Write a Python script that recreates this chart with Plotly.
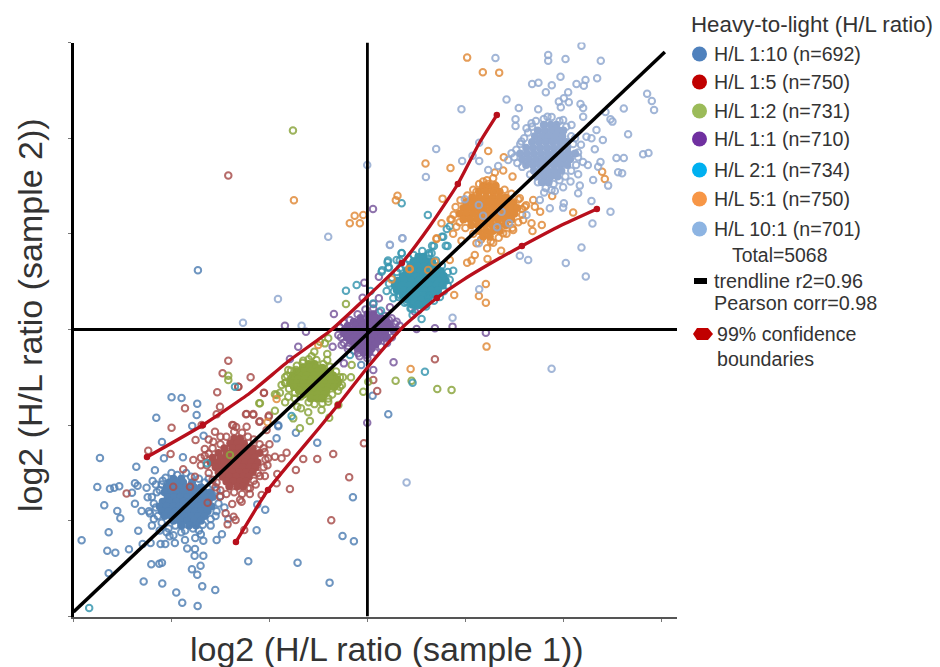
import plotly.graph_objects as go

# ---- values (log2 sample 1, log2 sample 2) ----
blue_scatter = [(-1.999,-.709),(-1.897,-.716),(-1.737,-.775),(-2.155,-.922),(-1.743,-.894),(-1.788,-1.009),(-1.672,-1.11),(-2.097,-1.176),(-2.73,-1.343),(-2.077,-1.347),(-1.883,-1.336),(-2.359,-1.434),(-2.169,-1.472),(-2.757,-1.646),(-2.628,-1.664),(-2.584,-1.653),(-2.533,-1.639),(-2.403,-1.706),(-2.373,-1.608),(-2.346,-1.633),(-2.192,-1.584),(-2.254,-1.653),(-2.686,-1.838),(-2.553,-1.897),(-2.522,-1.974),(-2.373,-1.821),(-2.243,-1.754),(-2.305,-1.897),(-2.22,-1.922),(-2.641,-2.12),(-2.339,-2.103),(-2.917,-2.204),(-2.655,-2.312),(-2.573,-2.333),(-2.434,-2.298),(-2.294,-2.242),(-2.213,-2.232),(-2.111,-2.242),(-2.063,-2.242),(-1.965,-2.232),(-1.862,-2.2),(-1.757,-2.18),(-1.675,-2.207),(-1.539,-2.2),(-1.485,-2.141),(-1.839,-2.288),(-1.76,-2.295),(-1.675,-2.364),(-1.764,-2.364),(-2.206,-2.455),(-2.124,-2.448),(-2.097,-2.437),(-1.703,-2.469),(-1.791,-2.507),(-1.737,-2.563),(-2.641,-2.549),(-2.284,-2.633),(-2.094,-2.654),(-1.686,-2.685),(-1.553,-2.723),(-1.951,-2.748),(-1.89,-2.856),(-1.733,-2.89),(-1.216,-2.423),(-.713,-2.437),(-.386,-2.646),(-.254,-2.159),(-.138,-2.214),(-.148,-1.754),(-1.131,-2.099),(-1.043,-1.883),(-1.124,-1.828),(-.512,-1.183),(-.73,-1.079),(-.91,-1.012),(-.927,-1.138),(-1.73,.62),(.213,-.887),(.053,-.692),(-.063,-.371),(-.91,-1.0),(-2.15,-1.7),(-2.18,-1.82),(-2.14,-1.95),(-2.2,-2.05),(-2.12,-2.1),(-2.05,-2.12),(-1.98,-2.15),(-1.9,-2.12),(-1.72,-2.1),(-1.6,-2.05),(-1.55,-1.95),(-2.1,-1.62),(-2.06,-1.55),(-1.85,-1.5),(-1.42,-1.98)]
blue_fringe = [(-2.2,-1.75),(-2.16,-1.86),(-2.18,-1.98),(-2.1,-2.02),(-2.03,-2.08),(-1.96,-2.05),(-1.86,-2.1),(-1.78,-2.08),(-1.68,-2.04),(-1.6,-1.98),(-1.54,-1.9),(-1.52,-1.82),(-1.5,-1.74),(-1.54,-1.68),(-1.58,-1.62),(-1.66,-1.6),(-1.72,-1.56),(-1.8,-1.54),(-1.94,-1.52),(-2.0,-1.5),(-2.09,-1.58),(-2.12,-1.68),(-2.16,-1.62),(-2.23,-1.9),(-2.02,-2.16),(-1.7,-2.14),(-1.62,-1.56),(-1.46,-1.86)]
blue_rows = [(-1.56,[-1.98,-1.90]),(-1.60,[-2.02,-1.95,-1.88,-1.79]),(-1.65,[-2.05,-1.98,-1.92,-1.85,-1.77,-1.70]),(-1.70,[-2.07,-2.00,-1.94,-1.88,-1.81,-1.74,-1.66,-1.60]),(-1.75,[-2.04,-1.97,-1.91,-1.84,-1.78,-1.71,-1.64,-1.58]),(-1.80,[-2.09,-2.02,-1.95,-1.88,-1.82,-1.75,-1.69,-1.62]),(-1.85,[-2.12,-2.05,-1.98,-1.92,-1.85,-1.79,-1.72,-1.65,-1.59]),(-1.90,[-2.10,-2.03,-1.96,-1.89,-1.83,-1.76,-1.70,-1.63]),(-1.95,[-2.07,-2.00,-1.93,-1.86,-1.80,-1.73,-1.66]),(-2.00,[-1.98,-1.91,-1.84,-1.77,-1.70]),(-2.05,[-1.90,-1.82,-1.75])]

red_scatter = [(-1.533,-.657),(-1.318,-.598),(-1.056,-.664),(-1.862,-.824),(-1.505,-.807),(-1.539,-.887),(-1.24,-.887),(-1.165,-.89),(-1.009,-.911),(-1.999,-1.026),(-1.692,-.998),(-1.104,-.964),(-1.38,-.998),(-1.233,-1.016),(-1.556,-1.068),(-1.754,-1.155),(-2.237,-1.267),(-2.009,-1.302),(-1.573,-1.173),(-1.029,-1.051),(-1.88,-1.462),(-1.777,-1.364),(-1.76,-1.538),(-1.982,-1.643),(-2.458,-1.713),(-1.811,-1.643),(-1.199,-1.66),(-1.097,-1.531),(-1.046,-1.531),(-.92,-1.511),(-.73,-1.469),(-.791,-1.667),(-.927,-1.608),(-1.08,-1.73),(-1.284,-1.8),(-1.38,-1.824),(-1.447,-1.922),(-1.366,-1.957),(-1.427,-2.037),(-1.345,-1.991),(-1.257,-2.096),(-.349,-1.302),(-.512,-1.354),(-.655,-1.354),(-.825,-1.288),(-.876,-1.347),(-.944,-1.329),(-1.012,-1.347),(-.186,-1.545),(-.369,-1.995),(-.036,-1.19),(-1.631,-1.81),(-1.505,-1.748),(-1.42,1.61),(-1.42,-.326),(-1.478,-.458),(-1.192,-.5),(-1.318,-.598),(-1.056,-.66),(.689,-.312),(.06,-.528),(.1,-.643),(-1.233,-.883),(-1.165,-.883),(-1.369,-1.0),(-1.097,-.96),(-1.005,-.9),(-1.62,-1.15),(-1.5,-1.12),(-1.66,-1.25),(-1.7,-1.42),(-1.0,-1.2),(-1.05,-1.28),(-1.55,-1.65),(-1.2,-1.72),(-1.14,-1.62)]
red_fringe = [(-1.66,-1.32),(-1.64,-1.42),(-1.62,-1.5),(-1.58,-1.57),(-1.54,-1.6),(-1.5,-1.68),(-1.44,-1.72),(-1.36,-1.7),(-1.28,-1.72),(-1.22,-1.66),(-1.16,-1.58),(-1.12,-1.5),(-1.06,-1.44),(-1.04,-1.36),(-1.06,-1.24),(-1.1,-1.2),(-1.16,-1.15),(-1.22,-1.12),(-1.28,-1.08),(-1.36,-1.07),(-1.44,-1.12),(-1.5,-1.2),(-1.58,-1.24),(-1.62,-1.3),(-1.7,-1.34),(-1.34,-1.02),(-1.3,-1.78),(-1.02,-1.42)]
red_rows = [(-1.14,[-1.36,-1.30]),(-1.19,[-1.40,-1.33,-1.26]),(-1.24,[-1.46,-1.38,-1.31,-1.24,-1.17]),(-1.29,[-1.52,-1.44,-1.37,-1.30,-1.23,-1.16,-1.10]),(-1.34,[-1.58,-1.50,-1.43,-1.36,-1.29,-1.22,-1.15]),(-1.39,[-1.60,-1.53,-1.46,-1.39,-1.32,-1.25,-1.18,-1.12]),(-1.44,[-1.55,-1.48,-1.41,-1.34,-1.27,-1.20,-1.14]),(-1.49,[-1.52,-1.45,-1.38,-1.31,-1.24,-1.17]),(-1.54,[-1.48,-1.41,-1.34,-1.27,-1.21]),(-1.59,[-1.44,-1.37,-1.30,-1.24]),(-1.64,[-1.41,-1.33,-1.27])]

green_scatter = [(-.219,.266),(-.4,-.092),(-.485,-.127),(-.434,-.145),(-.542,-.232),(-.41,-.256),(-.41,-.319),(-.655,-.326),(-.161,-.371),(-.168,-.5),(-.808,-.423),(-.729,-.423),(-1.42,-.483),(-1.42,-.528),(-.876,-.58),(-.835,-.556),(.288,-.535),(.451,-.535),(.713,-.622),(.859,-.633),(-.042,-.65),(-.944,-.678),(-.893,-.66),(-.808,-.702),(-1.097,-.772),(-.716,-.807),(-.678,-.824),(-.604,-.866),(-.587,-.957),(-.944,-.849),(-.297,-.789),(-.4,-.754),(-.468,-.842),(.009,-.545),(-.281,-.598),(-.76,2.08),(-1.403,-1.312),(-1.104,-.772),(-.927,-.685),(-.689,-1.033),(-.757,-.929),(-.39,-.922),(-.84,-.76),(-.74,-.72),(-.25,-.5),(-.84,-.5)]
green_fringe = [(-.84,-.56),(-.82,-.48),(-.78,-.43),(-.72,-.38),(-.66,-.35),(-.6,-.31),(-.52,-.32),(-.45,-.36),(-.38,-.39),(-.32,-.44),(-.28,-.5),(-.26,-.58),(-.3,-.64),(-.36,-.68),(-.4,-.72),(-.46,-.77),(-.54,-.78),(-.6,-.76),(-.68,-.7),(-.74,-.66),(-.8,-.62),(-.57,-.28)]
green_rows = [(-.36,[-.60,-.54]),(-.40,[-.66,-.59,-.52,-.46]),(-.44,[-.72,-.65,-.58,-.51,-.44,-.38]),(-.48,[-.76,-.69,-.62,-.55,-.48,-.41,-.35]),(-.52,[-.78,-.71,-.64,-.57,-.50,-.43,-.36,-.31]),(-.56,[-.79,-.72,-.65,-.58,-.51,-.44,-.37,-.30]),(-.60,[-.75,-.68,-.61,-.54,-.47,-.40,-.34]),(-.64,[-.70,-.63,-.56,-.49,-.42]),(-.68,[-.65,-.58,-.51,-.44]),(-.72,[-.58,-.51,-.46])]

purple_scatter = [(-.842,.04),(-.627,-.023),(-.342,.162),(-.049,.333),(-.032,.489),(.117,.552),(.117,.326),(.06,.266),(-.706,-.18),(-.355,-.18),(-.791,-.308),(-.24,-.354),(.06,-.423),(.267,-.343),(.869,.03),(1.209,-.033),(.689,.012),(.502,.005),(-.002,-.974),(.298,.082),(.247,.117),(.485,.186),(.23,.232),(-.297,-.058),(-.263,-.162),(-.195,-.173),(.179,-.092),(.281,-.023),(-.094,-.249),(-.008,-.267),(.057,1.26)]
purple_fringe = [(-.28,.02),(-.27,-.08),(-.24,-.14),(-.2,-.2),(-.14,-.22),(-.08,-.28),(0,-.3),(.08,-.24),(.14,-.18),(.2,-.14),(.25,-.08),(.3,0),(.28,.06),(.22,.1),(.18,.14),(.12,.18),(.06,.22),(-.02,.21),(-.1,.16),(-.18,.1),(-.24,.07),(.33,.04)]
purple_rows = [(.16,[0,.06]),(.12,[-.07,.01,.08,.14]),(.08,[-.14,-.07,0,.07,.14,.20]),(.04,[-.20,-.12,-.05,.02,.09,.16,.23]),(0,[-.23,-.16,-.09,-.02,.05,.12,.19,.26]),(-.04,[-.24,-.17,-.10,-.03,.04,.11,.18]),(-.08,[-.21,-.14,-.07,0,.07,.14,.20]),(-.12,[-.17,-.10,-.03,.04,.11]),(-.16,[-.13,-.06,.01,.08]),(-.20,[-.10,-.03,.04]),(-.24,[-.04,.02])]

teal_scatter = [(-.219,.406),(-.11,.465),(.032,.402),(.06,.273),(.196,.402),(.145,.604),(.213,.646),(.206,.702),(.349,.796),(.298,.726),(.461,.151),(.553,.11),(.138,.197),(.655,.796),(.679,.873),(.818,.873),(.774,.97),(.876,.615),(.587,-.441),(.461,-.556),(-.178,-.267),(-.774,-.904),(-1.352,-.598),(-2.84,-2.91),(-1.638,-1.399),(.35,1.32),(.617,1.196),(.81,1.05),(.84,1.08),(.76,.97),(.66,.875),(.8,.875),(.63,.8),(.35,.8),(.33,.72),(.21,.72),(.15,.62),(.22,.65),(.451,.221),(.519,.256),(.621,.343),(.4,.291),(.264,.326),(.332,.361)]
teal_fringe = [(.22,.48),(.25,.54),(.3,.6),(.33,.64),(.38,.68),(.42,.74),(.47,.78),(.56,.82),(.63,.78),(.7,.72),(.76,.67),(.82,.6),(.84,.52),(.82,.46),(.78,.4),(.74,.34),(.68,.3),(.6,.24),(.52,.2),(.44,.22),(.38,.28),(.32,.34),(.27,.4)]
teal_rows = [(.76,[.52,.57]),(.71,[.47,.54,.60,.66]),(.66,[.44,.51,.58,.65,.71]),(.61,[.40,.47,.54,.61,.68,.75]),(.56,[.36,.43,.50,.57,.64,.71,.78]),(.51,[.31,.38,.45,.52,.59,.66,.73,.80]),(.46,[.28,.35,.42,.49,.56,.63,.70,.77]),(.41,[.30,.37,.44,.51,.58,.65,.72]),(.36,[.36,.43,.50,.57,.64,.70]),(.31,[.41,.48,.55,.62]),(.26,[.46,.53,.59])]

orange_scatter = [(1.018,2.842),(1.178,2.688),(1.345,2.685),(.593,1.734),(.848,1.688),(.307,1.399),(.29,1.35),(.767,1.368),(-.043,1.197),(-.077,1.11),(1.233,1.866),(1.392,1.8),(2.396,1.65),(2.423,1.574),(2.1,1.222),(1.886,1.396),(1.78,1.093),(1.763,1.232),(1.675,1.11),(1.685,1.03),(.756,1.11),(.848,1.152),(.875,1.0),(.705,.946),(.96,.929),(.841,.727),(1.096,.779),(1.062,.72),(1.018,.699),(1.226,.737),(1.365,.824),(1.222,.849),(1.284,.908),(1.113,.901),(.433,.633),(.688,.709),(.62,.622),(1.301,1.64),(1.284,1.58),(1.386,1.661),(1.481,1.598),(1.181,1.546),(1.233,1.521),(1.113,1.441),(1.301,1.511),(1.607,1.284),(1.692,1.354),(1.556,1.371),(1.709,1.284),(1.59,1.145),(1.488,1.04),(1.386,1.006),(.909,1.075),(1.216,-.179),(1.209,.28),(1.138,.35),(1.209,.476),(.441,-.413),(-.502,-.162),(-.927,-.727),(.886,.361),(.706,.953),(.247,.524),(.427,.632),(-.75,1.35),(-.13,1.19),(-.18,1.11),(-1.02,-.97)]
orange_fringe = [(.88,1.2),(.9,1.28),(.95,1.35),(1.02,1.4),(1.08,1.46),(1.14,1.52),(1.22,1.56),(1.3,1.44),(1.4,1.46),(1.47,1.42),(1.54,1.36),(1.58,1.26),(1.58,1.2),(1.54,1.12),(1.48,1.06),(1.42,1.0),(1.34,.96),(1.26,.92),(1.16,.94),(1.08,1.0),(1.0,1.06),(.94,1.12),(.86,1.15),(1.62,1.3)]
orange_rows = [(1.50,[1.18,1.24,1.31]),(1.44,[1.14,1.21,1.28,1.35]),(1.38,[1.07,1.14,1.21,1.28,1.35,1.41]),(1.33,[1.01,1.08,1.15,1.22,1.29,1.36,1.43,1.49]),(1.27,[.98,1.05,1.12,1.19,1.26,1.33,1.40,1.47,1.53]),(1.21,[.94,1.01,1.08,1.15,1.22,1.29,1.36,1.43,1.50]),(1.15,[.98,1.05,1.12,1.19,1.26,1.33,1.40,1.47]),(1.09,[1.06,1.13,1.20,1.27,1.34,1.41]),(1.03,[1.14,1.21,1.28,1.35]),(.97,[1.18,1.25])]

light_scatter = [(2.185,2.967),(1.307,2.838),(1.845,2.87),(1.845,2.81),(2.022,2.828),(2.382,2.81),(1.971,2.643),(1.681,2.567),(1.746,2.58),(1.882,2.553),(2.134,2.567),(2.226,2.608),(2.209,2.549),(2.345,2.626),(1.821,2.479),(2.049,2.479),(1.42,2.403),(1.954,2.382),(2.056,2.375),(2.005,2.417),(2.175,2.357),(2.202,2.316),(1.545,2.316),(1.743,2.302),(1.974,2.323),(.96,2.302),(2.43,2.274),(2.617,2.309),(2.855,2.465),(2.903,2.389),(2.926,2.295),(2.481,2.197),(2.501,2.173),(2.202,2.225),(1.512,2.197),(1.512,2.127),(1.675,2.155),(1.624,2.103),(1.838,2.225),(1.998,2.19),(2.083,2.138),(2.338,2.086),(2.661,2.04),(2.403,1.981),(2.236,2.016),(2.287,1.999),(2.321,1.884),(2.814,1.831),(2.869,1.845),(2.542,1.793),(2.617,1.793),(2.379,1.751),(2.355,1.702),(2.559,1.643),(2.6,1.633),(2.457,1.504),(2.304,1.563),(2.168,1.504),(2.073,1.546),(2.151,1.622),(1.998,1.486),(2.151,1.424),(1.913,1.448),(2.287,1.344),(2.005,1.319),(1.998,1.274),(1.862,1.267),(2.481,1.232),(2.297,1.107),(2.185,.856),(2.025,.695),(2.229,.553),(1.641,.727),(1.556,.772),(.597,1.594),(.702,1.887),(.967,1.762),(1.141,1.953),(1.073,1.817),(1.141,1.762),(1.233,1.668),(1.335,1.709),(-.002,1.72),(.229,.884),(.355,.953),(1.76,1.354),(1.624,1.197),(1.137,1.302),(1.181,1.19),(1.369,1.232),(1.324,1.068),(1.137,.901),(.994,1.361),(1.447,1.11),(1.804,1.431),(1.879,1.458),(1.471,1.842),(1.437,1.772),(1.573,1.964),(-1.27,.07),(-.913,.319),(-.4,.97),(-.672,.04),(.23,.887),(.359,.953),(1.141,.42),(.869,.124),(.4,-1.6),(1.88,-.41),(2.15,1.85),(2.2,1.75),(2.25,1.72),(2.12,2.0),(2.18,1.93)]
light_fringe = [(1.5,1.8),(1.52,1.88),(1.56,1.94),(1.6,2.0),(1.64,2.06),(1.68,2.12),(1.72,2.18),(1.8,2.2),(1.88,2.22),(1.96,2.18),(2.03,2.12),(2.08,2.02),(2.1,1.94),(2.15,1.8),(2.13,1.72),(2.08,1.66),(2.02,1.6),(1.96,1.56),(1.9,1.52),(1.82,1.48),(1.74,1.54),(1.66,1.62),(1.58,1.7),(1.53,1.74)]
light_rows = [(2.14,[1.80,1.87,1.93]),(2.08,[1.74,1.81,1.88,1.95,2.00]),(2.02,[1.71,1.78,1.85,1.92,1.99]),(1.96,[1.68,1.75,1.82,1.89,1.96,2.03]),(1.90,[1.62,1.69,1.76,1.83,1.90,1.97,2.04]),(1.84,[1.56,1.63,1.70,1.77,1.84,1.91,1.98,2.05,2.12]),(1.78,[1.58,1.65,1.72,1.79,1.86,1.93,2.00,2.07]),(1.72,[1.62,1.69,1.76,1.83,1.90,1.97,2.04]),(1.66,[1.70,1.77,1.84,1.91,1.98]),(1.60,[1.73,1.80,1.87,1.94]),(1.54,[1.78,1.85])]

trend_x = [-3.0, 3.036]
trend_y = [-2.953, 2.90]
upper_x = [-2.25,-1.679,-1.199,-.791,-.383,-.005,.352,.638,.923,1.148,1.321]
upper_y = [-1.333,-.998,-.664,-.319,-.016,.34,.695,1.082,1.521,1.96,2.242]
lower_x = [-1.342,-1.015,-.485,-.301,.005,.362,.709,.974,1.352,1.577,1.964,2.342]
lower_y = [-2.221,-1.678,-1.019,-.789,-.392,.026,.329,.517,.747,.873,1.082,1.26]
upper_nodes_x = [-2.25,-1.679,.352,.923,1.321]
upper_nodes_y = [-1.333,-.998,.695,1.521,2.242]
lower_nodes_x = [-1.342,-1.015,-.301,.709,1.577,2.342]
lower_nodes_y = [-2.221,-1.678,-.789,.329,.873,1.26]
tick_values = [-3,-2,-1,0,1,2,3]

legend_title = "Heavy-to-light (H/L ratio)"
legend_labels = ["H/L 1:10 (n=692)","H/L 1:5 (n=750)","H/L 1:2 (n=731)","H/L 1:1 (n=710)","H/L 2:1 (n=734)","H/L 5:1 (n=750)","H/L 10:1 (n=701)"]
legend_colors = ["#4f81bd","#c00000","#9bbb59","#7030a0","#00b0f0","#f79646","#8db4e2"]
legend_rows = [54,82,111,139,170,199,229]
point_colors = ["#5583b5","#a9514f","#8ca63f","#7a5a9e","#3b98b0","#e08c3c","#92a9d0"]

W, H = 940, 667
PX0, PX1, PY0, PY1 = 73.5, 677.0, 42.5, 616.5
FONT = "Liberation Sans, Arial, sans-serif"

fig = go.Figure()
all_scatter = [blue_scatter, red_scatter, green_scatter, purple_scatter, teal_scatter, orange_scatter, light_scatter]
all_fringe = [blue_fringe, red_fringe, green_fringe, purple_fringe, teal_fringe, orange_fringe, light_fringe]
all_rows = [blue_rows, red_rows, green_rows, purple_rows, teal_rows, orange_rows, light_rows]
for scat, fringe, rows, color, name in zip(all_scatter, all_fringe, all_rows, point_colors, legend_labels):
    core = [(x, y) for y, xs in rows for x in xs]
    rings = scat + fringe
    fig.add_trace(go.Scatter(x=[p[0] for p in core], y=[p[1] for p in core], mode="markers", name=name,
                             marker=dict(symbol="circle", size=8, color=color, line=dict(width=0)),
                             showlegend=False, hoverinfo="x+y+name"))
    fig.add_trace(go.Scatter(x=[p[0] for p in rings], y=[p[1] for p in rings], mode="markers", name=name,
                             marker=dict(symbol="circle-open", size=6.5, color=color, opacity=.85, line=dict(width=2, color=color)),
                             showlegend=False, hoverinfo="x+y+name"))
fig.add_trace(go.Scatter(x=[0, 0], y=[-3, 3], mode="lines", line=dict(color="#000", width=2.8), showlegend=False, hoverinfo="skip"))
fig.add_trace(go.Scatter(x=[-3, 3.16], y=[0, 0], mode="lines", line=dict(color="#000", width=2.8), showlegend=False, hoverinfo="skip"))
fig.add_trace(go.Scatter(x=trend_x, y=trend_y, mode="lines", line=dict(color="#000", width=3.5), showlegend=False, name="trendline"))
for xs, ys, nx, ny in [(upper_x, upper_y, upper_nodes_x, upper_nodes_y), (lower_x, lower_y, lower_nodes_x, lower_nodes_y)]:
    fig.add_trace(go.Scatter(x=xs, y=ys, mode="lines", line=dict(color="#b80f1c", width=3.3, shape="spline", smoothing=.5), showlegend=False, name="99% confidence"))
    fig.add_trace(go.Scatter(x=nx, y=ny, mode="markers", marker=dict(color="#b80f1c", size=6.5), showlegend=False, hoverinfo="skip"))


def px(v):
    return v / W


def py(v):
    return 1 - v / H


anns = []


def text(s, x, y, size, anchor="left", angle=0):
    anns.append(dict(text=s, x=px(x), y=py(y), xref="paper", yref="paper", xanchor=anchor, yanchor="middle", showarrow=False,
                     textangle=angle, font=dict(family=FONT, size=size, color="#333333")))


text(legend_title, 689, 24, 22.3)
shapes = []
for label, color, row in zip(legend_labels, legend_colors, legend_rows):
    text(label, 711.5, row, 19.6)
    shapes.append(dict(type="circle", xref="paper", yref="paper", x0=px(692), x1=px(707), y0=py(row - 7.5), y1=py(row + 7.5),
                       fillcolor=color, line=dict(width=0)))
text("Total=5068", 730, 255, 19.4)
shapes.append(dict(type="rect", xref="paper", yref="paper", x0=px(694), x1=px(707), y0=py(278), y1=py(284), fillcolor="#000", line=dict(width=0)))
text("trendline r2=0.96", 712, 281, 19.8)
text("Pearson corr=0.98", 712, 303, 19.8)
hexagon = [(693, 334), (697, 328), (708, 328), (713, 334), (708, 340), (697, 340)]
path = "M " + " L ".join(f"{px(a):.5f},{py(b):.5f}" for a, b in hexagon) + " Z"
shapes.append(dict(type="path", xref="paper", yref="paper", path=path, fillcolor="#c00000", line=dict(width=0)))
text("99% confidence", 715, 334, 19.6)
text("boundaries", 715, 359, 19.6)
text("log2 (H/L ratio (sample 1))", 387, 649, 34, anchor="center")
text("log2 (H/L ratio (sample 2))", 30, 315, 34, anchor="center", angle=-90)

fig.update_layout(width=W, height=H, margin=dict(l=0, r=0, t=0, b=0), paper_bgcolor="#fff", plot_bgcolor="#fff",
                  annotations=anns, shapes=shapes, showlegend=False,
                  xaxis=dict(domain=[px(PX0), px(PX1)], range=[-3, 3.16], tickvals=tick_values, showticklabels=False, showgrid=False,
                             zeroline=False, ticks="outside", ticklen=3, tickcolor="#777", showline=True, linecolor="#555", linewidth=2),
                  yaxis=dict(domain=[py(PY1), py(PY0)], range=[-3, 3], tickvals=tick_values, showticklabels=False, showgrid=False,
                             zeroline=False, ticks="outside", ticklen=3, tickcolor="#777", showline=True, linecolor="#000", linewidth=2.5))
fig.write_html("out.html", config={"displayModeBar": False},
               post_script="document.body.style.margin='0';document.body.style.overflow='hidden';")
